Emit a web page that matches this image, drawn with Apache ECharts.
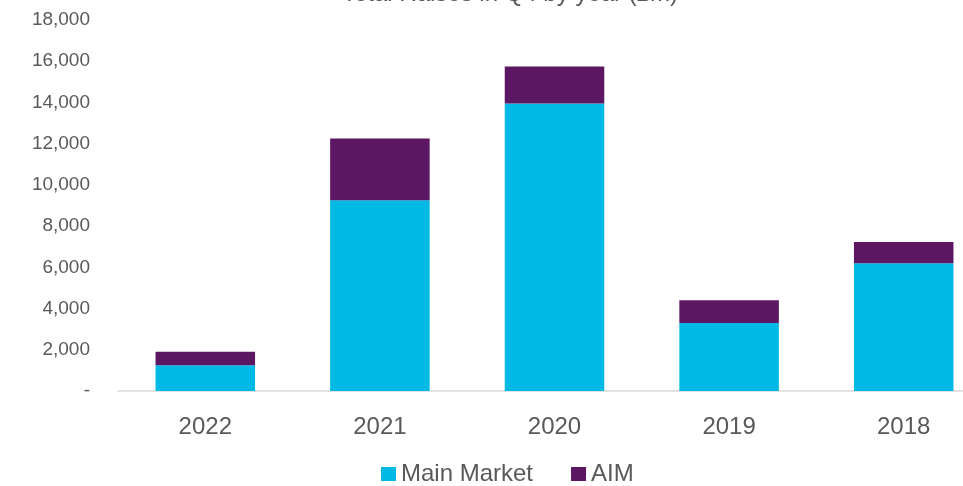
<!DOCTYPE html>
<html><head><meta charset="utf-8">
<script src="https://cdn.jsdelivr.net/npm/echarts@6/dist/echarts.min.js"></script>
<style>html,body{margin:0;padding:0;background:#fff}#c{width:963px;height:486px}</style>
</head><body><div id="c"></div>
<script>
const categories = ['2022', '2021', '2020', '2019', '2018'];
const mainMarket = [1250, 9250, 13950, 3300, 6200];
const aim = [650, 3000, 1800, 1100, 1030];
const yTicks = [0, 2000, 4000, 6000, 8000, 10000, 12000, 14000, 16000, 18000];

const chart = echarts.init(document.getElementById('c'));
const font = 'Liberation Sans, Arial, sans-serif';
chart.setOption({
  animation: false,
  title: {
    text: 'Total Raises in Q4 by year (£m)',
    left: 505, top: -23, textAlign: 'center',
    textStyle: { color: '#595959', fontSize: 24, fontWeight: 'normal', fontFamily: font }
  },
  legend: {
    top: 457, left: 376, itemWidth: 15, itemHeight: 14, itemGap: 38,
    icon: 'rect',
    textStyle: { color: '#595959', fontSize: 24, fontFamily: font },
    data: ['Main Market', 'AIM']
  },
  grid: { left: 118, width: 873, top: 20, bottom: 95, containLabel: false, outerBoundsMode: 'none' },
  xAxis: {
    type: 'category', data: categories,
    axisLine: { lineStyle: { color: '#d9d9d9', width: 1.5 } },
    axisTick: { show: false },
    axisLabel: { color: '#595959', fontSize: 24, fontFamily: font, margin: 24 }
  },
  yAxis: {
    type: 'value', min: 0, max: 18000, interval: 2000,
    splitLine: { show: false },
    axisLine: { show: false }, axisTick: { show: false },
    axisLabel: {
      color: '#595959', fontSize: 19, fontFamily: font, margin: 28,
      formatter: v => yTicks.includes(v) ? (v === 0 ? '-' : v.toLocaleString('en-US')) : ''
    }
  },
  series: [
    { name: 'Main Market', type: 'bar', stack: 't', data: mainMarket, barWidth: '57%',
      itemStyle: { color: '#00b9e4' } },
    { name: 'AIM', type: 'bar', stack: 't', data: aim, barWidth: '57%',
      itemStyle: { color: '#5c1763' } }
  ]
});
</script></body></html>
